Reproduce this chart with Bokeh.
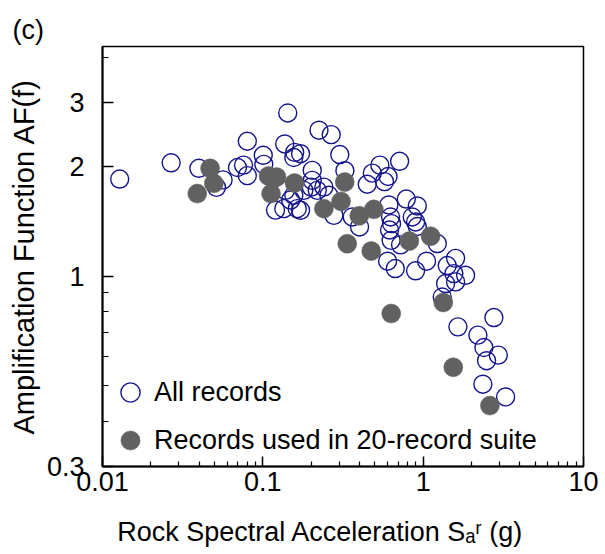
from bokeh.embed import file_html
from bokeh.models import (CustomJSTickFormatter, FixedTicker, Legend,
                          LegendItem, Title)
from bokeh.plotting import figure
from bokeh.resources import INLINE

# Rock spectral acceleration (g) and amplification factor, all records
all_sa = [0.0128, 0.0268, 0.0399, 0.080, 0.0514, 0.0565, 0.0695, 0.0758, 0.080,
          0.1006, 0.1014, 0.120, 0.137, 0.158, 0.149, 0.143, 0.156, 0.224, 0.267,
          0.302, 0.325, 0.537, 0.482, 0.604, 0.574, 0.448, 0.713, 0.785, 0.919,
          0.611, 0.626, 0.635, 0.617, 0.631, 0.855, 0.897, 0.919, 0.723, 0.600,
          0.670, 0.897, 1.05, 1.225, 1.593, 1.413, 1.839, 1.554, 1.38, 1.593,
          1.315, 1.647, 2.761, 2.194, 2.392, 2.486, 2.942, 2.357, 3.266, 0.2033,
          0.2004, 0.2185, 0.2402, 0.2773, 0.401, 0.3613, 0.1719, 0.1802, 0.2033,
          0.2581, 0.1719, 0.1386, 0.1561, 0.1639, 0.1352]
all_af = [1.85, 2.05, 1.98, 2.35, 1.755, 1.84, 1.99, 2.02, 1.89,
          2.15, 2.03, 1.52, 2.31, 2.19, 1.62, 2.81, 2.12, 2.52, 2.45,
          2.16, 1.95, 2.02, 1.92, 1.88, 1.82, 1.79, 2.07, 1.63, 1.56,
          1.57, 1.455, 1.395, 1.34, 1.255, 1.455, 1.41, 1.37, 1.22, 1.10,
          1.05, 1.035, 1.10, 1.23, 1.12, 1.07, 1.006, 1.017, 0.955, 0.965,
          0.877, 0.726, 0.77, 0.689, 0.637, 0.586, 0.607, 0.505, 0.466, 1.954,
          1.758, 1.722, 1.758, 1.47, 1.366, 1.455, 2.172, 1.722, 1.834,
          1.669, 1.518, 1.722, 1.669, 1.534, 1.534]

# Records selected for the 20-record suite
suite_sa = [0.0469, 0.0495, 0.039, 0.1085, 0.1218, 0.1125, 0.1577, 0.2402, 0.3075,
            0.3243, 0.3994, 0.4927, 0.3362, 0.4745, 0.82, 1.112, 1.335, 0.632,
            1.541, 2.607]
suite_af = [1.98, 1.80, 1.687, 1.887, 1.873, 1.687, 1.804, 1.534, 1.606,
            1.815, 1.466, 1.527, 1.229, 1.173, 1.249, 1.288, 0.847, 0.79,
            0.562, 0.441]

x_ticks = [0.01, 0.1, 1, 10]
x_minor = [m * d for d in (0.01, 0.1, 1) for m in range(2, 10)]
y_ticks = [0.3, 1, 2, 3]
y_minor = [0.4, 0.5, 0.6, 0.7, 0.8, 0.9, 4]

FONT = "Liberation Sans, DejaVu Sans, sans-serif"
FS = 27
NAVY = "#14148c"
GREY = "#616161"

p = figure(frame_width=481, frame_height=420,
           min_border_left=102, min_border_right=22,
           min_border_top=46, min_border_bottom=88,
           x_axis_type="log", y_axis_type="log",
           x_range=(0.01, 10), y_range=(0.3, 4.28),
           output_backend="svg", toolbar_location=None)
p.grid.visible = False
p.outline_line_color = "black"
p.outline_line_width = 1.5
p.background_fill_color = "white"
p.border_fill_color = "white"

fmt = CustomJSTickFormatter(code="return tick.toString()")
for ax, ticks, minor, tin, mtin in ((p.xaxis, x_ticks, x_minor, 10, 5),
                                     (p.yaxis, y_ticks, y_minor, 11, 6)):
    ax.ticker = FixedTicker(ticks=ticks, minor_ticks=minor)
    ax.formatter = fmt
    ax.axis_line_color = "black"
    ax.axis_line_width = 2
    ax.major_tick_in = tin
    ax.major_tick_out = 0
    ax.minor_tick_in = mtin
    ax.minor_tick_out = 0
    ax.major_tick_line_color = "black"
    ax.minor_tick_line_color = "black"
    ax.major_tick_line_width = 1.5
    ax.minor_tick_line_width = 1.2
    ax.major_label_text_font = FONT
    ax.major_label_text_font_size = f"{FS}px"
    ax.major_label_text_color = "black"
    ax.axis_label_text_font = FONT
    ax.axis_label_text_font_style = "normal"
    ax.axis_label_text_color = "black"
p.xaxis.major_label_standoff = 5
p.yaxis.major_label_standoff = 18

# trailing no-break spaces pull the centred title a little to the left
p.xaxis.axis_label = "Rock Spectral Acceleration S\u2090\u02b3 (g)" + "\u00a0" * 6
p.xaxis.axis_label_text_font_size = f"{FS}px"
p.xaxis.axis_label_standoff = 23
p.yaxis.axis_label = "Amplification Function AF(f)"
p.yaxis.axis_label_text_font_size = "29px"
p.yaxis.axis_label_standoff = 4

r_all = p.scatter(all_sa, all_af, size=18, marker="circle", fill_color=None,
                  line_color=NAVY, line_width=1.4)
r_suite = p.scatter(suite_sa, suite_af, size=19, marker="circle",
                    fill_color=GREY, line_color=GREY, line_width=0.5)

legend = Legend(items=[LegendItem(label="All records", renderers=[r_all]),
                       LegendItem(label="Records used in 20-record suite",
                                  renderers=[r_suite])],
                location=(4, 2), glyph_width=48, glyph_height=48, spacing=-16,
                label_standoff=-2, padding=0, margin=0,
                border_line_color=None, background_fill_alpha=0,
                label_text_font=FONT, label_text_font_size=f"{FS}px",
                label_text_color="black")
p.add_layout(legend)

# panel tag
p.add_layout(Title(text="(c)", align="left", offset=-90, standoff=4,
                   text_font=FONT, text_font_size=f"{FS}px",
                   text_font_style="normal", text_color="black"), "above")

open("out.html", "w").write(file_html(p, INLINE))
